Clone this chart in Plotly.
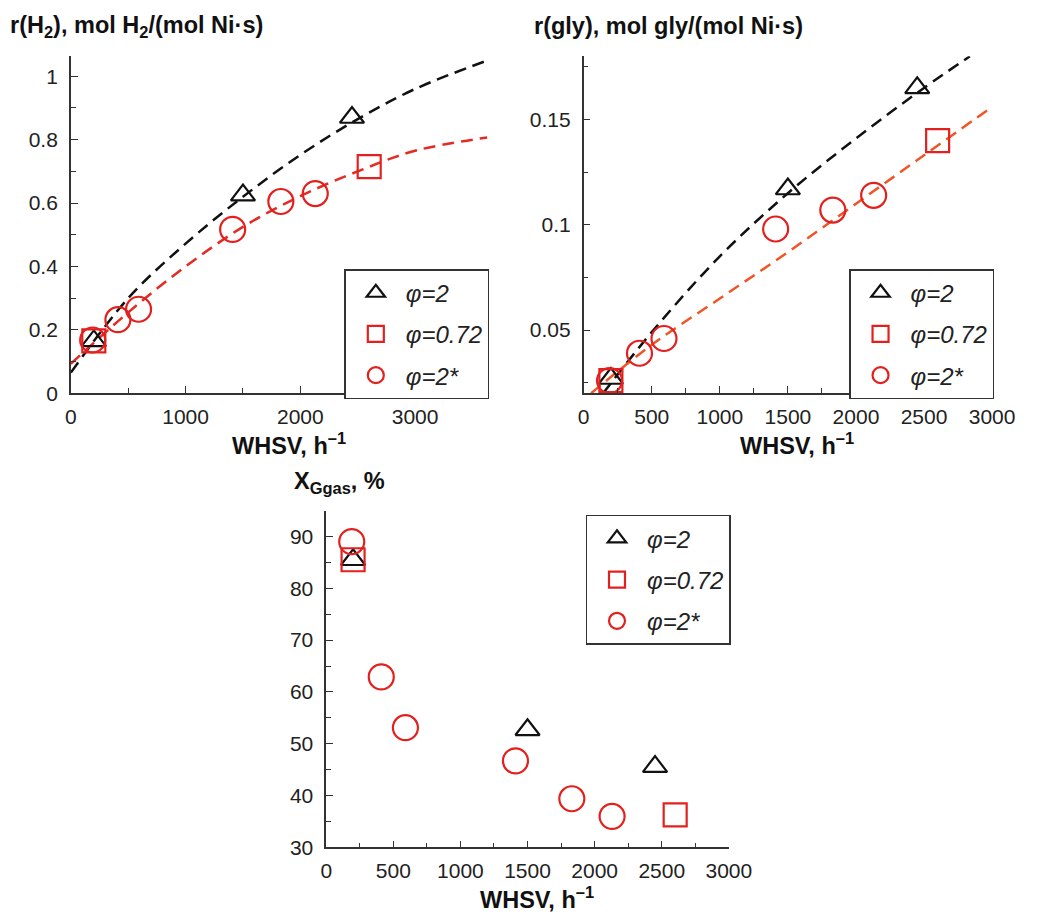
import plotly.graph_objects as go

W, H = 1054, 921

# ---------------- data ----------------
labels = ["φ=2", "φ=0.72", "φ=2*"]

phi2_x = [200, 1500, 2450]
phi2_rH2 = [0.165, 0.625, 0.87]
phi2_rgly = [0.027, 0.117, 0.165]
phi2_X = [85.5, 52.7, 45.6]

phi072_x = [200, 2600]
phi072_rH2 = [0.165, 0.715]
phi072_rgly = [0.026, 0.140]
phi072_X = [85.5, 36.3]

phi2s_x = [190, 410, 590, 1410, 1830, 2130]
phi2s_rH2 = [0.168, 0.232, 0.265, 0.517, 0.605, 0.63]
phi2s_rgly = [0.026, 0.039, 0.046, 0.098, 0.107, 0.114]
phi2s_X = [89.0, 62.9, 53.1, 46.7, 39.4, 36.0]

# dashed fitted curves
fitH2_black_x = [0, 500, 1000, 1500, 2000, 2500, 3000, 3630]
fitH2_black_y = [0.065, 0.30, 0.472, 0.62, 0.752, 0.865, 0.96, 1.05]
fitH2_red_x = [0, 500, 1000, 1500, 2000, 2500, 3000, 3630]
fitH2_red_y = [0.093, 0.255, 0.40, 0.525, 0.622, 0.70, 0.765, 0.807]

fitgly_black_x = [143, 500, 1000, 1500, 2000, 2500, 2837]
fitgly_black_y = [0.02, 0.049, 0.085, 0.115, 0.141, 0.165, 0.18]
fitgly_red_x = [55, 500, 1000, 1500, 2000, 2500, 3000]
fitgly_red_y = [0.02, 0.043, 0.065, 0.087, 0.110, 0.133, 0.156]

# ---------------- styles ----------------
FONT = "Liberation Sans, Arial, sans-serif"
BLACK = "#111111"
RED = "#e3201e"
RED_LINE = "#e42a22"
ORANGE_LINE = "#ef5527"
AX = "#333333"


def px_x(p):
    return p / W


def px_y(p):
    return 1 - p / H


fig = go.Figure()

panels = [
    ("x", "y", "legend", phi2_rH2, phi072_rH2, phi2s_rH2),
    ("x2", "y2", "legend2", phi2_rgly, phi072_rgly, phi2s_rgly),
    ("x3", "y3", "legend3", phi2_X, phi072_X, phi2s_X),
]

dash = "12px,7px"
# fitted curves
fig.add_trace(go.Scatter(x=fitH2_black_x, y=fitH2_black_y, mode="lines", line=dict(color=BLACK, width=2.5, dash=dash, shape="spline"),
                         xaxis="x", yaxis="y", showlegend=False, hoverinfo="skip"))
fig.add_trace(go.Scatter(x=fitH2_red_x, y=fitH2_red_y, mode="lines", line=dict(color=RED_LINE, width=2.5, dash=dash, shape="spline"),
                         xaxis="x", yaxis="y", showlegend=False, hoverinfo="skip"))
fig.add_trace(go.Scatter(x=fitgly_black_x, y=fitgly_black_y, mode="lines", line=dict(color=BLACK, width=2.5, dash=dash, shape="spline"),
                         xaxis="x2", yaxis="y2", showlegend=False, hoverinfo="skip"))
fig.add_trace(go.Scatter(x=fitgly_red_x, y=fitgly_red_y, mode="lines", line=dict(color=ORANGE_LINE, width=2.5, dash=dash, shape="spline"),
                         xaxis="x2", yaxis="y2", showlegend=False, hoverinfo="skip"))

for xa, ya, lg, y1, y2, y3 in panels:
    fig.add_trace(go.Scatter(x=phi2_x, y=y1, mode="markers", name=labels[0], legend=lg, legendgroup=lg + "a",
                             marker=dict(symbol="triangle-up-open", size=21, color=BLACK, line=dict(width=2.2, color=BLACK)),
                             xaxis=xa, yaxis=ya))
    fig.add_trace(go.Scatter(x=phi072_x, y=y2, mode="markers", name=labels[1], legend=lg, legendgroup=lg + "b",
                             marker=dict(symbol="square-open", size=23, color=RED, line=dict(width=2.2, color=RED)),
                             xaxis=xa, yaxis=ya))
    fig.add_trace(go.Scatter(x=phi2s_x, y=y3, mode="markers", name=labels[2], legend=lg, legendgroup=lg + "c",
                             marker=dict(symbol="circle-open", size=25, color=RED, line=dict(width=2.2, color=RED)),
                             xaxis=xa, yaxis=ya))


def axis(domain, rng, dtick, minor_dtick, anchor, standoff, tick0=0):
    return dict(
        domain=domain, range=rng, anchor=anchor, dtick=dtick, tick0=tick0,
        showgrid=False, zeroline=False, showline=True, linecolor=AX, linewidth=1.6,
        ticks="inside", ticklen=7, tickwidth=1.4, tickcolor=AX,
        minor=dict(dtick=minor_dtick, ticks="inside", ticklen=5, tickwidth=1.4, tickcolor=AX, showgrid=False),
        tickfont=dict(family=FONT, size=21, color="#222222"),
        fixedrange=True, ticklabelstandoff=standoff,
    )


# top-left: x 66.7..495, y 57..398
fig.update_layout(
    xaxis=axis([px_x(66.7), px_x(495)], [0, 3630], 1000, 500, "y", 4),
    yaxis=axis([px_y(398), px_y(57)], [0, 1.063], 0.2, 0.1, "x", 7),
    xaxis2=axis([px_x(594), px_x(1014)], [0, 3000], 500, 250, "y2", 4),
    yaxis2=axis([px_y(398), px_y(57)], [0.02, 0.18], 0.05, 0.025, "x2", 7),
    xaxis3=axis([px_x(329.3), px_x(743.3)], [0, 3000], 500, 250, "y3", 4),
    yaxis3=axis([px_y(857.7), px_y(516.7)], [30, 95], 10, 5, "x3", 7),
)

leg_common = dict(
    font=dict(family=FONT, size=24, color="#222222", style="italic"),
    bgcolor="white", bordercolor=AX, borderwidth=1.5,
    tracegroupgap=7, traceorder="grouped", itemsizing="trace", itemwidth=50,
)
fig.update_layout(
    legend=dict(x=px_x(497), xanchor="right", y=px_y(404), yanchor="bottom", **leg_common),
    legend2=dict(x=px_x(1016), xanchor="right", y=px_y(404), yanchor="bottom", **leg_common),
    legend3=dict(x=px_x(745), xanchor="right", y=px_y(521), yanchor="top", **leg_common),
)

tfont = dict(family=FONT, size=23.5, color="#111111")
annots = [
    dict(text="<b>r(H<sub>2</sub>), mol H<sub>2</sub>/(mol Ni·s)</b>", x=px_x(3), y=px_y(27), xanchor="left", yanchor="middle"),
    dict(text="<b>r(gly), mol gly/(mol Ni·s)</b>", x=px_x(542), y=px_y(26), xanchor="left", yanchor="middle"),
    dict(text="<b>X<sub>Ggas</sub>, %</b>", x=px_x(295), y=px_y(488), xanchor="left", yanchor="middle"),
    dict(text="<b>WHSV, h<sup>–1</sup></b>", x=px_x(291), y=px_y(449), xanchor="center", yanchor="middle"),
    dict(text="<b>WHSV, h<sup>–1</sup></b>", x=px_x(813), y=px_y(449), xanchor="center", yanchor="middle"),
    dict(text="<b>WHSV, h<sup>–1</sup></b>", x=px_x(546), y=px_y(909), xanchor="center", yanchor="middle"),
]
for a in annots:
    a.update(xref="paper", yref="paper", showarrow=False, font=tfont, borderpad=0)

fig.update_layout(
    width=W, height=H, margin=dict(l=0, r=0, t=0, b=0),
    paper_bgcolor="white", plot_bgcolor="white",
    annotations=annots, showlegend=True,
    font=dict(family=FONT),
)

fig.write_html("out.html", include_plotlyjs=True, config={"displayModeBar": False})
